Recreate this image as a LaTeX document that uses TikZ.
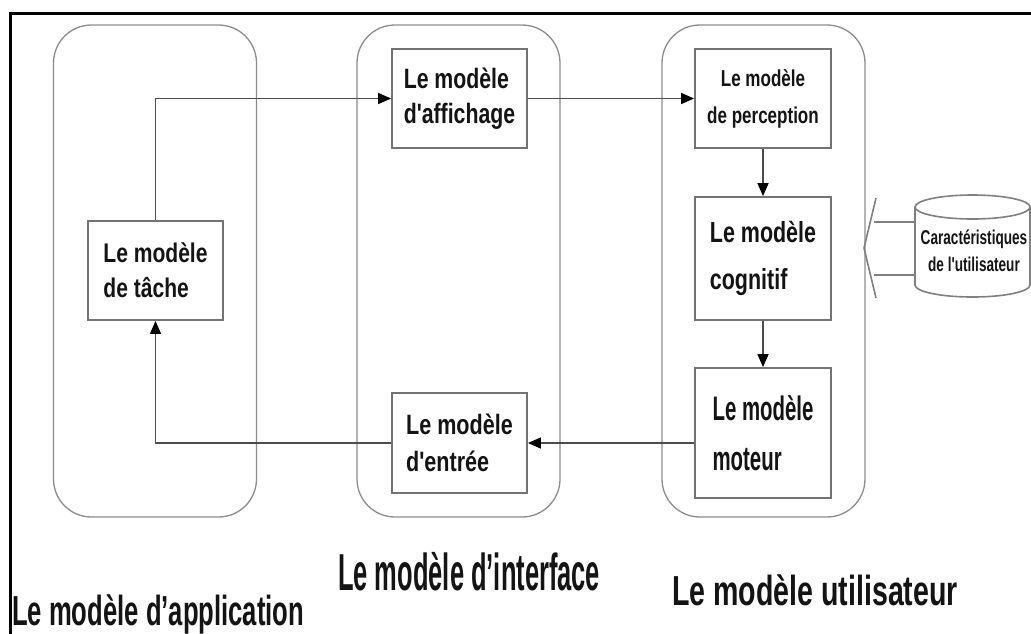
\documentclass[tikz,border=0pt]{standalone}
\usepackage{fontspec}
\setmainfont{Liberation Sans}
\newfontfamily\fTac[FakeStretch=0.78]{Liberation Sans}
\newfontfamily\fAff[FakeStretch=0.76]{Liberation Sans}
\newfontfamily\fEnt[FakeStretch=0.77]{Liberation Sans}
\newfontfamily\fPer[FakeStretch=0.74]{Liberation Sans}
\newfontfamily\fCog[FakeStretch=0.74]{Liberation Sans}
\newfontfamily\fMot[FakeStretch=0.6]{Liberation Sans}
\newfontfamily\fDb[FakeStretch=0.68]{Liberation Sans}
\newfontfamily\fApp[FakeStretch=0.61]{Liberation Sans}
\newfontfamily\fInt[FakeStretch=0.49]{Liberation Sans}
\newfontfamily\fUti[FakeStretch=0.68]{Liberation Sans}
\usetikzlibrary{arrows.meta}
\tikzset{
  container/.style={draw=black!45, line width=1.3pt, rounded corners=38pt, minimum width=203pt, minimum height=492pt, inner sep=0pt},
  model/.style={draw=black!55, fill=white, line width=1.8pt, minimum width=135pt, inner sep=0pt, align=left, text=black!92},
  flow/.style={draw=black!70, line width=1.4pt, -{Triangle[length=13pt,width=11pt,color=black]}},
  dbline/.style={draw=black!50, line width=1.6pt},
  title/.style={anchor=base west, inner sep=0pt, text=black!92}
}
\begin{document}
\begin{tikzpicture}[x=1pt,y=-1pt]
\useasboundingbox (0,0) rectangle (1031,633);
\fill[white] (0,0) rectangle (1031,633);
% frame
\draw[line width=3pt] (10,640) -- (10,13) -- (1040,13);
% containers
\node[container] (appc) at (155,271) {};
\node[container] (intc) at (458.5,271) {};
\node[container] (usrc) at (763.5,271) {};
% model boxes
\node[model, minimum height=99pt, font={\fTac\bfseries\fontsize{27}{35}\selectfont}] (tache) at (155.5,270.5) {Le modèle\\de tâche};
\node[model, minimum height=99pt, font={\fAff\bfseries\fontsize{28}{35}\selectfont}] (affichage) at (459.5,98.5) {Le modèle\\d'affichage};
\node[model, minimum height=99pt, minimum width=136pt, align=center, font={\fPer\bfseries\fontsize{23}{37}\selectfont}] (perception) at (763,98.5) {Le modèle\\de perception};
\node[model, minimum height=123pt, minimum width=136pt, font={\fCog\bfseries\fontsize{29}{47}\selectfont}] (cognitif) at (763,258.5) {Le modèle\\cognitif};
\node[model, minimum height=130pt, minimum width=136pt, font={\fMot\bfseries\fontsize{34}{50}\selectfont}] (moteur) at (763,433) {Le modèle\\moteur};
\node[model, minimum height=100pt, font={\fEnt\bfseries\fontsize{28}{37}\selectfont}] (entree) at (459.5,443) {Le modèle\\d'entrée};
% connectors
\draw[flow] (tache.north) |- (affichage.west);
\draw[flow] (affichage.east) -- (perception.west);
\draw[flow] (perception.south) -- (cognitif.north);
\draw[flow] (cognitif.south) -- (moteur.north);
\draw[flow] (moteur.west |- entree.east) -- (entree.east);
\draw[flow] (entree.west) -| (tache.south);
% database cylinder
\draw[dbline, fill=white] (915,207) -- (915,285) arc[start angle=180, end angle=0, x radius=57.5, y radius=12] -- (1030,207);
\draw[dbline] (972.5,207) ellipse[x radius=57.5, y radius=12];
\node[inner sep=0pt, align=center, text=black!92, font={\fDb\bfseries\fontsize{20}{27}\selectfont}] (db) at (974,251) {Caractéristiques\\de l'utilisateur};
% hollow arrow
\draw[dbline] (915,222) -- (874,222);
\draw[dbline] (874,275) -- (915,275);
\draw[dbline] (876,198) -- (864,248) -- (876,298);
% titles
\node[title, font={\fApp\bfseries\fontsize{42}{42}\selectfont}] (tapp) at (12,625) {Le modèle d’application};
\node[title, font={\fInt\bfseries\fontsize{52}{52}\selectfont}] (tint) at (338,590) {Le modèle d’interface};
\node[title, font={\fUti\bfseries\fontsize{42}{42}\selectfont}] (tusr) at (672,605) {Le modèle utilisateur};
\end{tikzpicture}
\end{document}
